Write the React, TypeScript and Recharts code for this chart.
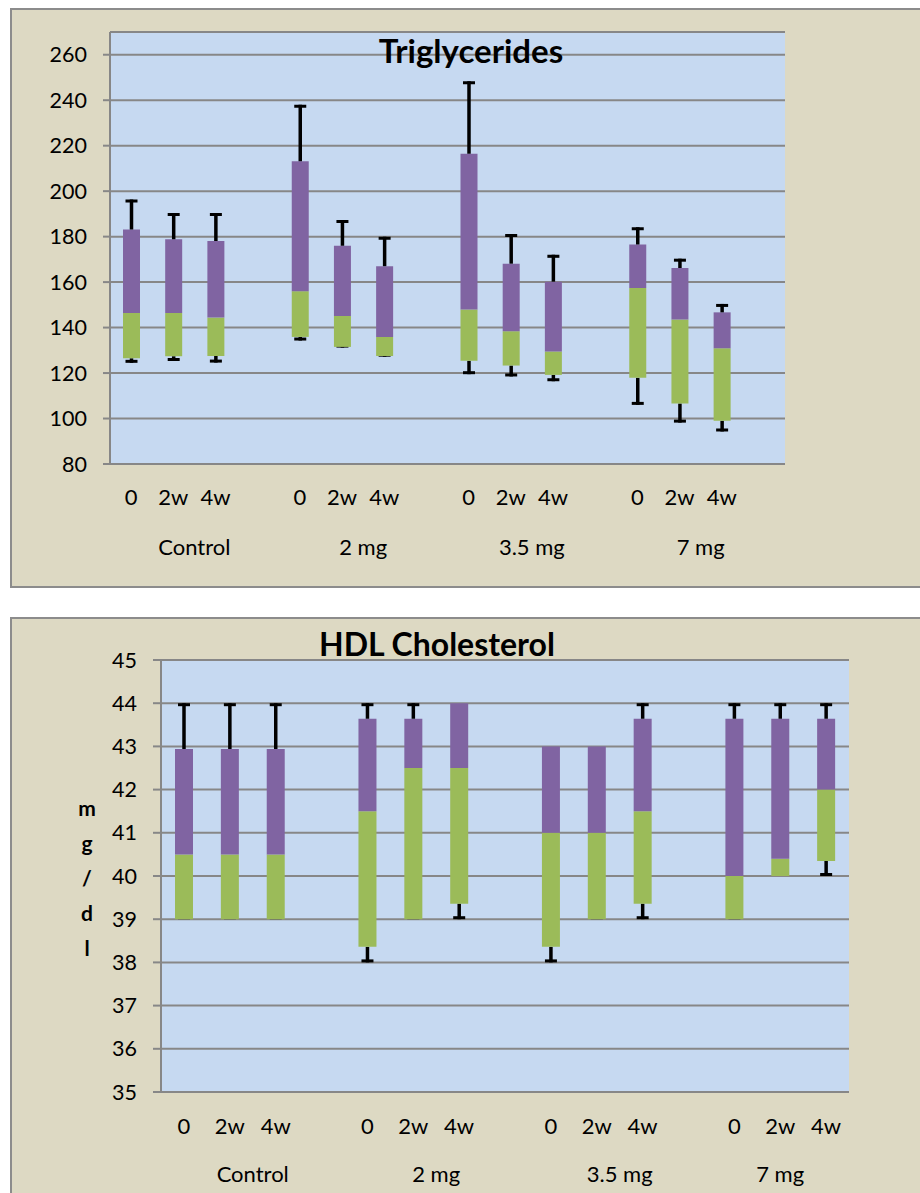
import React from 'react';
import { BarChart, Bar, XAxis, YAxis, CartesianGrid } from 'recharts';

const TIMES = ['0', '2w', '4w'];
const GROUPS = ['Control', '2 mg', '3.5 mg', '7 mg'];

// Triglycerides, one value per bar (0, 2w, 4w for each dose)
const TG_LOW = [124.5, 125.3, 124.6, 134.3, 131.2, 127.2, 119.5, 118.5, 116.4, 106, 98.2, 94.3];
const TG_BOTTOM = [126.5, 127.4, 127.5, 135.9, 131.5, 127.5, 125.4, 123.3, 119.2, 117.9, 106.6, 99];
const TG_MID = [146.4, 146.4, 144.4, 156, 145.1, 135.9, 147.9, 138.4, 129.5, 157.4, 143.5, 130.9];
const TG_TOP = [183.1, 178.8, 178.1, 213.1, 176, 167, 216.4, 168.1, 160.2, 176.5, 166.2, 146.7];
const TG_HIGH = [196.3, 190.4, 190.4, 238, 187.3, 180, 248.3, 181.2, 172, 184.1, 170.3, 150.4];
const TG_TICKS = [80, 100, 120, 140, 160, 180, 200, 220, 240, 260];

// HDL cholesterol (null = no error bar on that side)
const HDL_LOW = [null, null, null, 38, null, 39, 38, null, 39, null, null, 40];
const HDL_BOTTOM = [39, 39, 39, 38.36, 39, 39.36, 38.36, 39, 39.36, 39, 40, 40.35];
const HDL_MID = [40.5, 40.5, 40.5, 41.5, 42.5, 42.5, 41, 41, 41.5, 40, 40.4, 42];
const HDL_TOP = [42.94, 42.94, 42.94, 43.64, 43.64, 44, 43, 43, 43.64, 43.64, 43.64, 43.64];
const HDL_HIGH = [44, 44, 44, 44, 44, null, null, null, 44, 44, 44, 44];
const HDL_TICKS = [35, 36, 37, 38, 39, 40, 41, 42, 43, 44, 45];

const GREEN = '#9bbb59';
const PURPLE = '#8064a2';
const GRID = '#878787';
const FONT = 'Lato, "Open Sans", sans-serif';

type Row = {
  id: string;
  time: string;
  group?: string;
  span?: number;
  base?: number;
  errLow?: number;
  green?: number;
  purple?: number;
  errUp?: number;
};

function buildRows(low: (number | null)[], bottom: number[], mid: number[], top: number[], high: (number | null)[], blanks: number) {
  const rows: Row[] = [];
  GROUPS.forEach((g, gi) => {
    const hasBlank = gi < blanks;
    TIMES.forEach((t, ti) => {
      const i = gi * 3 + ti;
      const lo = low[i];
      const hi = high[i];
      rows.push({
        id: g + '-' + t,
        time: t,
        group: ti === 0 ? g : undefined,
        span: hasBlank ? 4 : 3,
        base: lo != null ? lo : bottom[i],
        errLow: lo != null ? bottom[i] - lo : 0,
        green: mid[i] - bottom[i],
        purple: top[i] - mid[i],
        errUp: hi != null ? hi - top[i] : 0,
      });
    });
    if (hasBlank) rows.push({ id: g + '-blank', time: '' });
  });
  return rows;
}

const tgRows = buildRows(TG_LOW, TG_BOTTOM, TG_MID, TG_TOP, TG_HIGH, 4);
const hdlRows = buildRows(HDL_LOW, HDL_BOTTOM, HDL_MID, HDL_TOP, HDL_HIGH, 3);

const ErrUp = (props: any) => {
  const { x, y, width, height } = props;
  if (!height || height <= 0.5) return null;
  const cx = x + width / 2;
  return (
    <g>
      <line x1={cx} x2={cx} y1={y} y2={y + height} stroke="#000" strokeWidth={3.5} />
      <line x1={cx - 6} x2={cx + 6} y1={y + 1.5} y2={y + 1.5} stroke="#000" strokeWidth={3} />
    </g>
  );
};

const ErrLow = (props: any) => {
  const { x, y, width, height } = props;
  if (height == null || height < 0 || !props.payload || props.payload.base === undefined) return null;
  const cx = x + width / 2;
  return (
    <g>
      <line x1={cx} x2={cx} y1={y} y2={y + height} stroke="#000" strokeWidth={3.5} />
      <line x1={cx - 6} x2={cx + 6} y1={y + height - 1.5} y2={y + height - 1.5} stroke="#000" strokeWidth={3} />
    </g>
  );
};

const makeTick = (rows: Row[], slotW: number, subDy: number, groupDy: number) => (props: any) => {
  const { x, y, payload } = props;
  const row = rows[payload.index];
  if (!row) return null;
  return (
    <g>
      <text x={x} y={y + subDy} textAnchor="middle" dominantBaseline="central" fontSize={22} fontFamily={FONT} fill="#000">
        {row.time}
      </text>
      {row.group && (
        <text x={x + ((row.span || 3) - 1) / 2 * slotW} y={y + groupDy} textAnchor="middle" dominantBaseline="central" fontSize={22} fontFamily={FONT} fill="#000">
          {row.group}
        </text>
      )}
    </g>
  );
};

const yTick = { fill: '#000', fontSize: 21.5, fontFamily: FONT };

export default function App() {
  const tgPlotW = 785 - 110;
  const hdlPlotW = 849 - 161;
  return (
    <div style={{ position: 'absolute', left: 0, top: 0, width: 920, height: 1193, overflow: 'hidden', fontFamily: FONT }}>
      {/* chart boxes */}
      <div style={{ position: 'absolute', left: 10, top: 8, width: 920, height: 580, background: '#ddd9c3', border: '2px solid #8c8c8c', boxSizing: 'border-box' }} />
      <div style={{ position: 'absolute', left: 10, top: 617, width: 920, height: 600, background: '#ddd9c3', border: '2px solid #8c8c8c', boxSizing: 'border-box' }} />

      <div style={{ position: 'absolute', left: 0, top: 0 }}>
        <BarChart width={920} height={600} data={tgRows} margin={{ top: 32, right: 135, left: 50, bottom: 36 }} barSize={17}>
          <CartesianGrid vertical={false} stroke={GRID} strokeWidth={2} fill="#c6d9f1" fillOpacity={1} />
          <XAxis dataKey="id" interval={0} height={100} tickSize={0} tickMargin={0} axisLine={{ stroke: GRID, strokeWidth: 2 }} tickLine={false} tick={makeTick(tgRows, tgPlotW / tgRows.length, 32, 82)} />
          <YAxis domain={[80, 270]} ticks={TG_TICKS} allowDataOverflow width={60} tickSize={7} tickMargin={16} tick={yTick} axisLine={{ stroke: GRID, strokeWidth: 2 }} tickLine={{ stroke: GRID, strokeWidth: 2 }} />
          <Bar dataKey="base" stackId="a" fill="transparent" isAnimationActive={false} />
          <Bar dataKey="errLow" stackId="a" shape={ErrLow} isAnimationActive={false} />
          <Bar dataKey="green" stackId="a" fill={GREEN} isAnimationActive={false} />
          <Bar dataKey="purple" stackId="a" fill={PURPLE} isAnimationActive={false} />
          <Bar dataKey="errUp" stackId="a" shape={ErrUp} isAnimationActive={false} />
        </BarChart>
      </div>

      <div style={{ position: 'absolute', left: 0, top: 600 }}>
        <BarChart width={920} height={593} data={hdlRows} margin={{ top: 60, right: 71, left: 101, bottom: 1 }} barSize={18}>
          <CartesianGrid vertical={false} stroke={GRID} strokeWidth={2} fill="#c6d9f1" fillOpacity={1} />
          <XAxis dataKey="id" interval={0} height={100} tickSize={0} tickMargin={0} axisLine={{ stroke: GRID, strokeWidth: 2 }} tickLine={false} tick={makeTick(hdlRows, hdlPlotW / hdlRows.length, 33, 81)} />
          <YAxis domain={[35, 45]} ticks={HDL_TICKS} allowDataOverflow width={60} tickSize={8} tickMargin={16} tick={yTick} axisLine={{ stroke: GRID, strokeWidth: 2 }} tickLine={{ stroke: GRID, strokeWidth: 2 }} />
          <Bar dataKey="base" stackId="a" fill="transparent" isAnimationActive={false} />
          <Bar dataKey="errLow" stackId="a" shape={ErrLow} isAnimationActive={false} />
          <Bar dataKey="green" stackId="a" fill={GREEN} isAnimationActive={false} />
          <Bar dataKey="purple" stackId="a" fill={PURPLE} isAnimationActive={false} />
          <Bar dataKey="errUp" stackId="a" shape={ErrUp} isAnimationActive={false} />
        </BarChart>
      </div>

      {/* titles */}
      <div style={{ position: 'absolute', left: 271, top: 34, width: 400, textAlign: 'center', fontSize: 33, lineHeight: '33px', fontWeight: 700, color: '#000' }}>
        Triglycerides
      </div>
      <div style={{ position: 'absolute', left: 237, top: 628, width: 400, textAlign: 'center', fontSize: 32, lineHeight: '32px', fontWeight: 700, color: '#000' }}>
        HDL Cholesterol
      </div>
      <div style={{ position: 'absolute', left: 72, top: 790, width: 30, textAlign: 'center', fontSize: 21, lineHeight: '35px', fontWeight: 700, color: '#000' }}>
        m<br />g<br />/<br />d<br />l
      </div>
    </div>
  );
}
